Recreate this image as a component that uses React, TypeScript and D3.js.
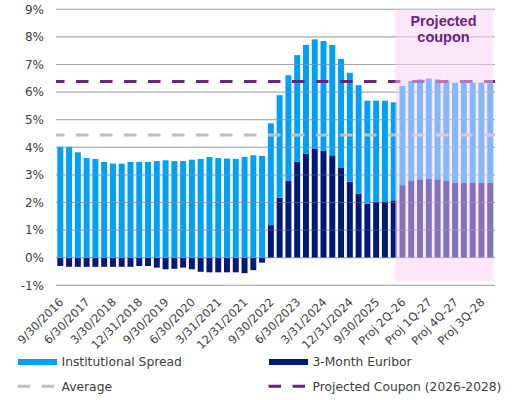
import React from "react";
import * as d3 from "d3";

// quarterly categories, projections from Proj 2Q-26 onwards
const categories = [
    "9/30/2016", "12/31/2016", "3/31/2017", "6/30/2017", "9/30/2017", "12/31/2017",
    "3/30/2018", "6/30/2018", "9/30/2018", "12/31/2018", "3/31/2019", "6/30/2019",
    "9/30/2019", "12/31/2019", "3/31/2020", "6/30/2020", "9/30/2020", "12/31/2020",
    "3/31/2021", "6/30/2021", "9/30/2021", "12/31/2021", "3/31/2022", "6/30/2022",
    "9/30/2022", "12/31/2022", "3/31/2023", "6/30/2023", "9/30/2023", "12/31/2023",
    "3/31/2024", "6/30/2024", "9/30/2024", "12/31/2024", "3/31/2025", "6/30/2025",
    "9/30/2025", "Proj 4Q-25", "Proj 1Q-26", "Proj 2Q-26", "Proj 3Q-26", "Proj 4Q-26",
    "Proj 1Q-27", "Proj 2Q-27", "Proj 3Q-27", "Proj 4Q-27", "Proj 1Q-28", "Proj 2Q-28",
    "Proj 3Q-28", "Proj 4Q-28",
];

const institutionalSpread = [
    4.02, 4.02, 3.82, 3.61, 3.58, 3.47, 3.41, 3.41, 3.47, 3.47, 3.47, 3.5,
    3.53, 3.5, 3.5, 3.55, 3.58, 3.65, 3.61, 3.59, 3.58, 3.65, 3.71, 3.69,
    3.69, 3.72, 3.82, 3.87, 3.95, 3.95, 3.98, 4.0, 3.95, 3.95, 3.94, 3.73,
    3.67, 3.65, 3.55, 3.59, 3.62, 3.62, 3.63, 3.62, 3.62, 3.62, 3.65, 3.62,
    3.62, 3.62,
];

const euribor3m = [
    -0.3, -0.33, -0.33, -0.33, -0.33, -0.33, -0.33, -0.33, -0.33, -0.3, -0.3, -0.36,
    -0.42, -0.4, -0.36, -0.42, -0.51, -0.53, -0.53, -0.53, -0.53, -0.56, -0.45, -0.18,
    1.18, 2.17, 2.79, 3.47, 3.76, 3.96, 3.87, 3.71, 3.25, 2.75, 2.31, 1.96,
    2.02, 2.04, 2.08, 2.63, 2.78, 2.84, 2.86, 2.84, 2.78, 2.72, 2.72, 2.72,
    2.72, 2.72,
];

const tickLabels = [
    "9/30/2016", "6/30/2017", "3/30/2018", "12/31/2018", "9/30/2019", "6/30/2020",
    "3/31/2021", "12/31/2021", "9/30/2022", "6/30/2023", "3/31/2024", "12/31/2024",
    "9/30/2025", "Proj 2Q-26", "Proj 1Q-27", "Proj 4Q-27", "Proj 3Q-28",
];

const yTicks = [-1, 0, 1, 2, 3, 4, 5, 6, 7, 8, 9];
const averageLevel = 4.45;
const projectedCoupon = 6.38;
const projectedStart = "Proj 2Q-26";

const FONT = "DejaVu Sans, Verdana, sans-serif";
const SPREAD_COLOR = "#00A0FA";
const EURIBOR_COLOR = "#001878";
const PURPLE = "#6a2380";

export default function App() {
    const ref = React.useRef<SVGSVGElement>(null);

    React.useEffect(() => {
        const svg = d3.select(ref.current);
        svg.selectAll("*").remove();

        const x = d3
            .scaleBand()
            .domain(categories)
            .range([56, 494.5])
            .paddingInner(0.32)
            .paddingOuter(0.15);
        const y = d3.scaleLinear().domain([-1, 9]).range([285.3, 9.3]);
        const bw = x.bandwidth();

        // gridlines under the bars
        svg.append("g")
            .selectAll("line")
            .data(yTicks)
            .join("line")
            .attr("x1", 56)
            .attr("x2", 495)
            .attr("y1", (d) => y(d))
            .attr("y2", (d) => y(d))
            .attr("stroke", "#a6a6a6")
            .attr("stroke-width", 1);

        // y labels
        svg.append("g")
            .selectAll("text")
            .data(yTicks)
            .join("text")
            .attr("x", 44)
            .attr("y", (d) => y(d))
            .attr("dy", "0.36em")
            .attr("text-anchor", "end")
            .attr("font-family", FONT)
            .attr("font-size", 12)
            .attr("fill", "#404040")
            .text((d) => d + "%");

        const rows = categories.map((c, i) => ({
            cat: c,
            spread: institutionalSpread[i],
            eur: euribor3m[i],
        }));

        const bars = svg.append("g");
        bars.selectAll(".eur")
            .data(rows)
            .join("rect")
            .attr("class", "eur")
            .attr("x", (d) => x(d.cat)!)
            .attr("width", bw)
            .attr("y", (d) => y(Math.max(d.eur, 0)))
            .attr("height", (d) => Math.abs(y(d.eur) - y(0)))
            .attr("fill", EURIBOR_COLOR);
        bars.selectAll(".spread")
            .data(rows)
            .join("rect")
            .attr("class", "spread")
            .attr("x", (d) => x(d.cat)!)
            .attr("width", bw)
            .attr("y", (d) => y(Math.max(d.eur, 0) + d.spread))
            .attr("height", (d) => y(Math.max(d.eur, 0)) - y(Math.max(d.eur, 0) + d.spread))
            .attr("fill", SPREAD_COLOR);

        // faint gridlines showing through the bars
        svg.append("g")
            .selectAll("line")
            .data(yTicks)
            .join("line")
            .attr("x1", 56)
            .attr("x2", 495)
            .attr("y1", (d) => y(d))
            .attr("y2", (d) => y(d))
            .attr("stroke", "#a6a6a6")
            .attr("stroke-opacity", 0.35);

        // average + projected coupon
        const refLines = [
            { v: averageLevel, color: "#c0c0c0" },
            { v: projectedCoupon, color: PURPLE },
        ];
        svg.append("g")
            .selectAll("line")
            .data(refLines)
            .join("line")
            .attr("x1", 56)
            .attr("x2", 495)
            .attr("y1", (d) => y(d.v))
            .attr("y2", (d) => y(d.v))
            .attr("stroke", (d) => d.color)
            .attr("stroke-width", 3)
            .attr("stroke-dasharray", "12.5,11.5")
            .attr("stroke-dashoffset", 4);

        // projected shading
        const px0 = x(projectedStart)! - x.step() * 0.5;
        const px1 = x(categories[categories.length - 1])! + bw;
        svg.append("rect")
            .attr("x", px0)
            .attr("y", y(9))
            .attr("width", px1 - px0)
            .attr("height", y(-0.85) - y(9))
            .attr("fill", "#ffcff5")
            .attr("fill-opacity", 0.5);

        const title = svg
            .append("text")
            .attr("text-anchor", "middle")
            .attr("font-family", "Liberation Sans, Arial, sans-serif")
            .attr("font-size", 14.5)
            .attr("font-weight", "bold")
            .attr("fill", PURPLE);
        title.append("tspan").attr("x", 443.5).attr("y", 25.5).text("Projected");
        title.append("tspan").attr("x", 443.5).attr("y", 42).text("coupon");

        // x labels
        svg.append("g")
            .selectAll("text")
            .data(tickLabels)
            .join("text")
            .attr("transform", (d) => `translate(${x(d)! + bw / 2 + 1},300) rotate(-45)`)
            .attr("dy", "0.36em")
            .attr("text-anchor", "end")
            .attr("font-family", FONT)
            .attr("font-size", 11.5)
            .attr("fill", "#404040")
            .text((d) => d);

        // legend
        const legend = svg
            .append("g")
            .attr("font-family", FONT)
            .attr("font-size", 12.3)
            .attr("fill", "#404040");
        const items = [
            { label: "Institutional Spread", kind: "rect", color: SPREAD_COLOR, lx: 18, ly: 362 },
            { label: "3-Month Euribor", kind: "rect", color: EURIBOR_COLOR, lx: 269, ly: 362 },
            { label: "Average", kind: "dash", color: "#c0c0c0", lx: 17.5, ly: 386.3 },
            { label: "Projected Coupon (2026-2028)", kind: "dash", color: PURPLE, lx: 268.5, ly: 386.3 },
        ];
        items.forEach((it) => {
            if (it.kind === "rect") {
                legend.append("rect")
                    .attr("x", it.lx)
                    .attr("y", it.ly - 3)
                    .attr("width", 39)
                    .attr("height", 6)
                    .attr("fill", it.color);
            } else {
                legend.append("line")
                    .attr("x1", it.lx)
                    .attr("x2", it.lx + 38)
                    .attr("y1", it.ly)
                    .attr("y2", it.ly)
                    .attr("stroke", it.color)
                    .attr("stroke-width", 3)
                    .attr("stroke-dasharray", "12.5,11.5");
            }
            legend.append("text")
                .attr("x", 44 + (it.lx > 100 ? 268.5 : 17.5))
                .attr("y", it.ly)
                .attr("dy", "0.36em")
                .text(it.label);
        });
    }, []);

    return (
        <svg
            ref={ref}
            width={522}
            height={400}
            style={{ position: "absolute", left: 0, top: 0 }}
        />
    );
}
